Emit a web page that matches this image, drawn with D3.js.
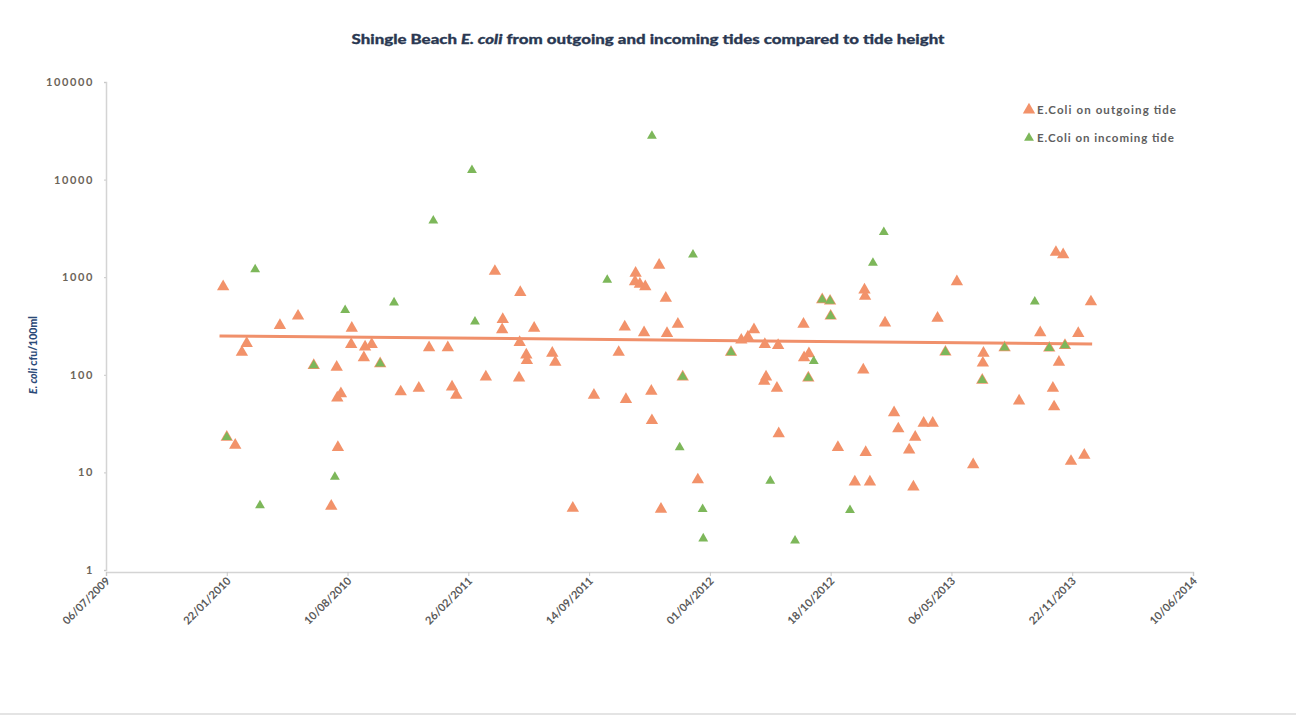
<!DOCTYPE html>
<html>
<head>
<meta charset="utf-8">
<script src="https://cdn.jsdelivr.net/npm/d3@7"></script>
<style>
body { margin: 0; background: #fff; }
svg { display: block; font-family: Lato, "Open Sans", sans-serif; }
</style>
</head>
<body>
<svg id="chart" width="1296" height="720"></svg>
<script>
// E. coli on outgoing tide
var outgoingDates = ["2010-01-16", "2010-01-22", "2010-02-05", "2010-02-16", "2010-02-24", "2010-04-20", "2010-05-20", "2010-06-15",
    "2010-07-14", "2010-07-23", "2010-07-24", "2010-07-25", "2010-07-30", "2010-08-16", "2010-08-17", "2010-09-06", "2010-09-08",
    "2010-09-19", "2010-10-03", "2010-11-06", "2010-12-06", "2010-12-23", "2011-01-23", "2011-01-30", "2011-02-06", "2011-03-27",
    "2011-04-11", "2011-04-23", "2011-04-24", "2011-05-21", "2011-05-22", "2011-05-23", "2011-06-02", "2011-06-03", "2011-06-15",
    "2011-07-15", "2011-07-20", "2011-08-18", "2011-09-22", "2011-11-02", "2011-11-12", "2011-11-14", "2011-11-29", "2011-11-30",
    "2011-12-07", "2011-12-14", "2011-12-16", "2011-12-26", "2011-12-27", "2012-01-08", "2012-01-11", "2012-01-19", "2012-01-21",
    "2012-02-08", "2012-02-16", "2012-03-12", "2012-05-06", "2012-05-23", "2012-06-03", "2012-06-13", "2012-06-30", "2012-07-01",
    "2012-07-03", "2012-07-21", "2012-07-23", "2012-07-24", "2012-09-03", "2012-09-04", "2012-09-11", "2012-09-12", "2012-10-04",
    "2012-10-17", "2012-10-18", "2012-10-30", "2012-11-27", "2012-12-11", "2012-12-13", "2012-12-14", "2012-12-15", "2012-12-22",
    "2013-01-16", "2013-01-31", "2013-02-07", "2013-02-25", "2013-03-04", "2013-03-07", "2013-03-21", "2013-04-05", "2013-04-13",
    "2013-04-26", "2013-05-15", "2013-06-11", "2013-06-26", "2013-06-27", "2013-06-28", "2013-08-02", "2013-08-26", "2013-09-30",
    "2013-10-15", "2013-10-21", "2013-10-23", "2013-10-26", "2013-10-31", "2013-11-07", "2013-11-10", "2013-11-20", "2013-12-02",
    "2013-12-12", "2013-12-23"];
var outgoingValues = [800, 23, 19, 170, 210, 320, 400, 125,
    4.5, 120, 58, 18, 64, 205, 300, 150, 193,
    205, 130, 67, 73, 190, 190, 75, 62, 95,
    1150, 290, 370, 93, 215, 700, 160, 140, 300,
    167, 135, 4.3, 62, 170, 310, 56, 900, 1100,
    850, 270, 800, 68, 34, 1330, 4.2, 610, 265,
    330, 95, 8.4, 170, 227, 244, 290, 86, 205,
    95, 73, 200, 25, 330, 150, 93, 165, 590,
    570, 400, 18, 8.0, 112, 740, 640, 16, 8.0,
    340, 41, 28, 17, 7.1, 23, 32, 32, 380,
    171, 900, 12, 88, 132, 167, 190, 54, 270,
    188, 73, 47, 1800, 135, 1700, 200, 13, 265,
    15, 560];

// E. coli on incoming tide
var incomingDates = ["2010-01-22", "2010-03-10", "2010-03-18", "2010-06-15", "2010-07-20", "2010-08-06", "2010-10-03", "2010-10-26",
    "2010-12-30", "2011-03-04", "2011-03-09", "2011-10-14", "2011-12-27", "2012-02-11", "2012-02-16", "2012-03-04", "2012-03-20",
    "2012-03-21", "2012-05-06", "2012-07-10", "2012-08-20", "2012-09-11", "2012-09-20", "2012-10-04", "2012-10-17", "2012-10-18",
    "2012-11-19", "2012-12-27", "2013-01-14", "2013-04-26", "2013-06-26", "2013-08-02", "2013-09-21", "2013-10-15", "2013-11-10"];
var incomingValues = [23, 1200, 4.6, 125, 9.0, 460, 130, 550,
    3800, 12500, 350, 940, 28000, 18, 95, 1700, 4.2,
    2.1, 170, 8.2, 2.0, 93, 138, 590, 570, 400,
    4.1, 1400, 2900, 171, 88, 190, 560, 188, 200];

// trend line end points
var trendDates = ["2010-01-10", "2013-12-25"];
var trendValues = [250, 207];

var xTickLabels = ["06/07/2009", "22/01/2010", "10/08/2010", "26/02/2011", "14/09/2011",
    "01/04/2012", "18/10/2012", "06/05/2013", "22/11/2013", "10/06/2014"];
var yTickValues = [1, 10, 100, 1000, 10000, 100000];

var parseIso = d3.timeParse("%Y-%m-%d");
var parseTick = d3.timeParse("%d/%m/%Y");

var svg = d3.select("#chart");

var x = d3.scaleTime()
    .domain([parseTick(xTickLabels[0]), parseTick(xTickLabels[xTickLabels.length - 1])])
    .range([106, 1193]);
var y = d3.scaleLog()
    .domain([1, 100000])
    .range([570, 82]);

// faint scan edge at the bottom
svg.append("line")
    .attr("x1", 0).attr("x2", 1296)
    .attr("y1", 714).attr("y2", 714)
    .attr("stroke", "#e4e4e4")
    .attr("stroke-width", 2);

// title
var title = svg.append("text")
    .attr("x", 648)
    .attr("y", 44)
    .attr("text-anchor", "middle")
    .attr("font-size", 14)
    .attr("font-weight", 900)
    .attr("fill", "#2a3852")
    .attr("stroke", "#2a3852")
    .attr("stroke-width", 0.3)
    .attr("textLength", 593)
    .attr("lengthAdjust", "spacingAndGlyphs");
title.append("tspan").text("Shingle Beach ");
title.append("tspan").attr("font-style", "italic").text("E. coli");
title.append("tspan").text(" from outgoing and incoming tides compared to tide height");

// axes
var xAxis = svg.append("g")
    .attr("transform", "translate(0,572)")
    .call(d3.axisBottom(x)
        .tickValues(xTickLabels.map(parseTick))
        .tickFormat(d3.timeFormat("%d/%m/%Y"))
        .tickSizeOuter(0)
        .tickSize(4));
xAxis.select(".domain").attr("stroke", "#d4d4d4").attr("stroke-width", 1.5);
xAxis.selectAll(".tick line").attr("stroke", "#c8c8c8");
xAxis.selectAll(".tick text")
    .attr("transform", "rotate(-45)")
    .attr("text-anchor", "end")
    .attr("x", -4)
    .attr("y", 6)
    .attr("dy", "0.35em")
    .attr("font-size", 11)
    .attr("font-weight", "bold")
    .attr("fill", "#5a5a5a")
    .attr("font-family", "Lato, sans-serif");

var yAxis = svg.append("g")
    .attr("transform", "translate(106,0)")
    .call(d3.axisLeft(y)
        .tickValues(yTickValues)
        .tickFormat(d3.format("d"))
        .tickSizeOuter(0)
        .tickSize(2)
        .tickPadding(10));
yAxis.select(".domain").attr("stroke", "#d4d4d4").attr("stroke-width", 1.5);
yAxis.selectAll(".tick line").attr("stroke", "#c8c8c8");
yAxis.selectAll(".tick text")
    .attr("font-size", 11)
    .attr("font-weight", "bold")
    .attr("letter-spacing", 1.6)
    .attr("fill", "#6b6458")
    .attr("font-family", "Lato, sans-serif");

// y axis title
var yTitle = svg.append("text")
    .attr("transform", "translate(37,355) rotate(-90)")
    .attr("text-anchor", "middle")
    .attr("font-size", 10.5)
    .attr("font-weight", 900)
    .attr("fill", "#2b4a78");
yTitle.append("tspan").attr("font-style", "italic").text("E. coli");
yTitle.append("tspan").text(" cfu/100ml");

// trend line
var trend = trendDates.map(function (d, i) {
    return {date: parseIso(d), value: trendValues[i]};
});
svg.append("path")
    .datum(trend)
    .attr("fill", "none")
    .attr("stroke", "#f0906b")
    .attr("stroke-width", 3)
    .attr("d", d3.line()
        .x(function (d) { return x(d.date); })
        .y(function (d) { return y(d.value); }));

var outgoing = outgoingDates.map(function (d, i) {
    return {date: parseIso(d), value: outgoingValues[i]};
});
var incoming = incomingDates.map(function (d, i) {
    return {date: parseIso(d), value: incomingValues[i]};
});

var bigTriangle = d3.symbol().type(d3.symbolTriangle).size(66);
var smallTriangle = d3.symbol().type(d3.symbolTriangle).size(42);

svg.append("g")
    .attr("class", "outgoing")
    .selectAll("path")
    .data(outgoing)
    .enter().append("path")
    .attr("d", bigTriangle)
    .attr("fill", "#f2926a")
    .attr("transform", function (d) {
        return "translate(" + x(d.date) + "," + y(d.value) + ")";
    });

svg.append("g")
    .attr("class", "incoming")
    .selectAll("path")
    .data(incoming)
    .enter().append("path")
    .attr("d", smallTriangle)
    .attr("fill", "#7db75a")
    .attr("transform", function (d) {
        return "translate(" + x(d.date) + "," + y(d.value) + ")";
    });

// legend
var legendItems = [
    {label: "E.Coli on outgoing tide", color: "#f2926a", symbol: bigTriangle},
    {label: "E.Coli on incoming tide", color: "#7db75a", symbol: smallTriangle}
];
var legend = svg.append("g")
    .attr("transform", "translate(1029,110)");
legend.selectAll("path")
    .data(legendItems)
    .enter().append("path")
    .attr("d", function (d) { return d.symbol(); })
    .attr("fill", function (d) { return d.color; })
    .attr("transform", function (d, i) { return "translate(0," + (i * 28) + ")"; });
legend.selectAll("text")
    .data(legendItems)
    .enter().append("text")
    .attr("x", 8)
    .attr("y", function (d, i) { return i * 28; })
    .attr("dy", "0.35em")
    .attr("font-size", 11.5)
    .attr("font-weight", "bold")
    .attr("fill", "#5e5e5e")
    .attr("textLength", function (d, i) { return i === 0 ? 139 : 137; })
    .attr("lengthAdjust", "spacing")
    .text(function (d) { return d.label; });
</script>
</body>
</html>
